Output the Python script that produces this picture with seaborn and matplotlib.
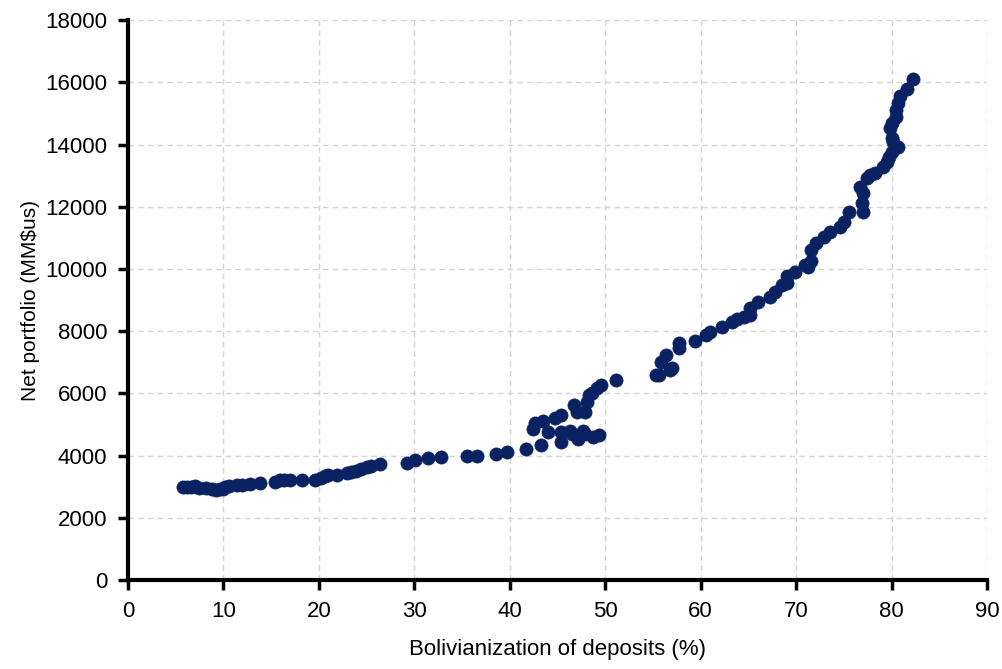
import pandas as pd
import numpy as np
import matplotlib.pyplot as plt
import seaborn as sns

sns.set_style('whitegrid')
plt.rcParams['font.family'] = ['Liberation Sans', 'DejaVu Sans']
plt.rcParams['text.color'] = 'black'
plt.rcParams['axes.labelcolor'] = 'black'
plt.rcParams['xtick.color'] = 'black'
plt.rcParams['ytick.color'] = 'black'

# Bolivianization of deposits (%) vs net portfolio (MM$us)
boliv = [5.8, 6.2, 6.6, 7.0, 7.4, 8.2, 8.8, 9.2, 9.6, 10.0, 10.2, 10.6, 11.4, 11.9, 12.8,
         13.8, 15.4, 15.9, 16.4, 17.0, 18.2, 19.6, 20.2, 20.6, 21.0, 21.9, 22.9, 23.4,
         23.9, 24.4, 25.0, 25.5, 26.4,
         29.2, 30.1, 31.4, 32.8, 35.5, 36.6, 38.6, 39.7, 41.7,
         43.3, 45.4, 47.1, 48.7, 49.4, 42.4, 42.6, 43.5, 44.0, 44.7, 45.4, 45.4, 46.3,
         46.5, 47.7, 47.9, 46.7, 47.0, 47.9, 48.1, 48.3, 48.6, 49.1, 49.6, 51.1,
         55.3, 55.6, 55.9, 56.4, 56.8, 57.0, 57.7, 57.7, 59.4, 60.6, 61.0, 62.2,
         63.3, 63.8, 64.5, 65.2, 65.2, 66.0, 67.3, 67.8, 68.5, 69.0, 69.0, 69.9,
         70.9, 71.3, 71.6, 71.6, 72.1, 72.9, 73.6, 74.6, 75.0, 75.5, 76.9, 77.0,
         77.0, 76.7, 77.4, 77.7, 78.3, 79.1, 79.5, 79.7, 80.0, 80.7, 80.2, 80.0,
         79.8, 80.0, 80.5, 80.5, 80.7, 80.9, 81.6, 82.2]
portfolio = [3000, 3000, 2990, 3010, 2970, 2960, 2920, 2900, 2910, 2920, 2990, 3030, 3050, 3060, 3100,
             3120, 3160, 3200, 3210, 3230, 3220, 3200, 3280, 3330, 3370, 3380, 3440, 3470,
             3520, 3560, 3620, 3680, 3740,
             3760, 3860, 3910, 3950, 3995, 3995, 4060, 4110, 4220,
             4330, 4440, 4540, 4590, 4650, 4860, 5040, 5120, 4770, 5200, 5300, 4770, 4800,
             4690, 4800, 4690, 5625, 5410, 5410, 5730, 5950, 6000, 6160, 6270, 6430,
             6590, 6590, 7020, 7230, 6750, 6800, 7610, 7450, 7690, 7875, 7980, 8140,
             8300, 8380, 8440, 8520, 8730, 8950, 9110, 9270, 9480, 9560, 9770, 9910,
             10125, 10070, 10250, 10600, 10820, 11035, 11200, 11360, 11520, 11840, 12110, 11840,
             12430, 12640, 12910, 13020, 13070, 13290, 13450, 13610, 13770, 13930, 14090, 14200,
             14520, 14680, 14890, 15110, 15320, 15560, 15800, 16090]

df = pd.DataFrame({'boliv': boliv, 'portfolio': portfolio})

fig = plt.figure(figsize=(10.02, 6.69), dpi=100)
ax = fig.add_axes([0.1277, 0.133, 0.8573, 0.837])

sns.scatterplot(data=df, x='boliv', y='portfolio', ax=ax, color='#0a2262',
                edgecolor='#0a2262', s=90, linewidth=0.5, zorder=3)

ax.set_xlim(0, 90)
ax.set_ylim(0, 18000)
ax.set_xticks(range(0, 91, 10))
ax.set_yticks(range(0, 18001, 2000))
ax.grid(True, linestyle=(0, (4, 3)), color='#d4d4d4', linewidth=1)

for side in ['top', 'right']:
    ax.spines[side].set_visible(False)
for side in ['left', 'bottom']:
    ax.spines[side].set_color('black')
    ax.spines[side].set_linewidth(3)

ax.tick_params(axis='both', direction='out', length=7, width=2.5, color='black',
               labelsize=16, pad=8, left=True, bottom=True, labelcolor='black')
ax.set_xlabel('Bolivianization of deposits (%)', fontsize=16, labelpad=12)
ax.set_ylabel('Net portfolio (MM$us)', fontsize=15, labelpad=4)

plt.savefig('out.png', dpi=100)
plt.close()
